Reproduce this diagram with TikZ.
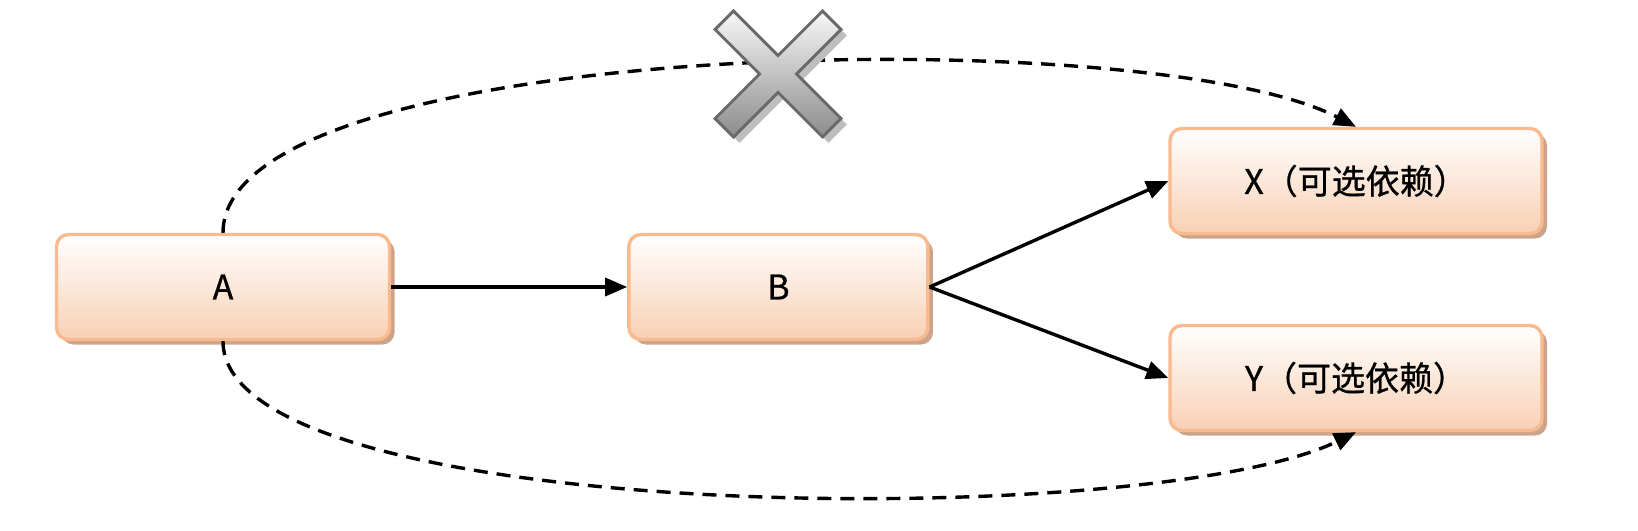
\documentclass[tikz,border=0pt]{standalone}
\usepackage{fontspec}
\setmainfont{Noto Sans CJK SC}[FakeBold=0.8]
\usetikzlibrary{arrows.meta,positioning,shadows}

\definecolor{boxborder}{RGB}{248,186,142}
\definecolor{boxbottom}{RGB}{248,208,180}
\definecolor{boxshadow}{RGB}{205,164,138}
\definecolor{crossborder}{RGB}{106,106,106}
\definecolor{crossbottom}{RGB}{140,140,140}
\definecolor{crossshadow}{RGB}{190,190,190}

\tikzset{
  dep/.style={draw=boxborder, line width=1.7pt, rounded corners=6pt,
    top color=white, bottom color=boxbottom, minimum height=52.5pt,
    font=\fontsize{17}{20}\selectfont,
    drop shadow={shadow xshift=2.5pt, shadow yshift=-2.5pt, fill=boxshadow, opacity=1}},
  link/.style={-{Triangle[length=11pt,width=9pt]}, line width=1.7pt},
  optlink/.style={link, dash pattern=on 7pt off 4.5pt},
  crossmark/.style={draw=crossborder, line width=1.5pt, top color=white!97!black, bottom color=crossbottom},
}

\begin{document}
\begin{tikzpicture}[x=0.5pt, y=-0.5pt]
      \useasboundingbox (0,0) rectangle (1638,530);

      % Define modules
      \node[dep, minimum width=166.5pt] (A) at (223,287) {A};
      \node[dep, minimum width=149.5pt, right=118pt of A] (B) {B};
      \node[dep, minimum width=186pt] (X) at (1356,181) {X（可选依赖）};
      \node[dep, minimum width=186pt] (Y) at (1356,378) {Y（可选依赖）};

      % Define dependencies
      \draw[link] (A) -- (B);
      \draw[link] (B.east) -- (X.west);
      \draw[link] (B.east) -- (Y.west);
      \draw[optlink] (A.north) .. controls +(0,-197) and +(-205,-106) .. (X.north);
      \draw[optlink] (A.south) .. controls +(0,185) and +(-205,100) .. (Y.south);

      % Define cross
      \begin{scope}[shift={(784,80)}, rotate=45]
        \fill[crossshadow] (-13,-76) -- (13,-76) -- (13,-13) -- (76,-13) -- (76,13) -- (13,13)
          -- (13,76) -- (-13,76) -- (-13,13) -- (-76,13) -- (-76,-13) -- (-13,-13) -- cycle;
      \end{scope}
      \begin{scope}[shift={(778,74)}, rotate=45]
        \path[crossmark] (-13,-76) -- (13,-76) -- (13,-13) -- (76,-13) -- (76,13) -- (13,13)
          -- (13,76) -- (-13,76) -- (-13,13) -- (-76,13) -- (-76,-13) -- (-13,-13) -- cycle;
      \end{scope}

\end{tikzpicture}
\end{document}
